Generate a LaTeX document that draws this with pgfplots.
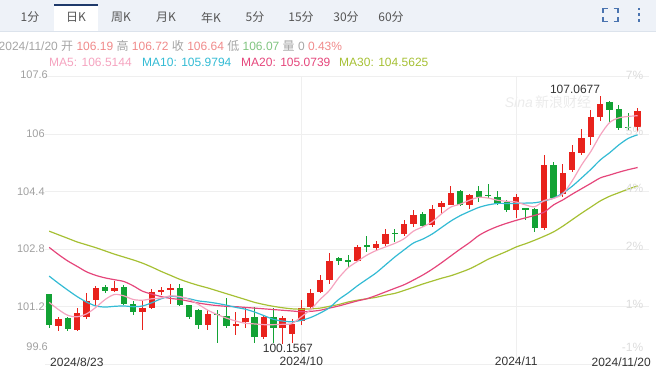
\documentclass[border=0pt]{standalone}
\usepackage{pgfplots}
\pgfplotsset{compat=1.18}
\usepackage{pgfplotstable}
\usepackage{fontspec}
\setmainfont{Liberation Sans}
\newfontfamily\cjk{Noto Sans CJK SC}
\newcommand\fs[1]{\fontsize{#1}{#1}\selectfont}
\definecolor{cred}{HTML}{E8221C}
\definecolor{cgreen}{HTML}{12A234}
\definecolor{ma5c}{HTML}{F5A3BF}
\definecolor{ma10c}{HTML}{33BBD4}
\definecolor{ma20c}{HTML}{E5467B}
\definecolor{ma30c}{HTML}{A6C034}
\definecolor{gridc}{HTML}{EFEFEF}
\definecolor{labgray}{HTML}{A0A0A0}
\definecolor{pctgray}{HTML}{DCDCDC}
\definecolor{tabbg}{HTML}{EEF2F8}
\definecolor{tabline}{HTML}{DCE3EC}
\definecolor{navy}{HTML}{1F3A6B}
\definecolor{tabtext}{HTML}{555555}
\definecolor{iconc}{HTML}{4A74B0}
\definecolor{infogray}{HTML}{A5A5A5}
\definecolor{infoup}{HTML}{F08A8A}
\definecolor{infodn}{HTML}{80C480}

\pgfplotstableread{
i o h l c
1 100.66 100.92 100.53 100.87
3 100.55 101.17 100.53 101.03
4 100.92 101.57 100.87 101.35
5 101.38 101.78 101.22 101.71
7 101.65 101.91 101.60 101.73
10 101.04 101.38 100.55 101.17
11 101.17 101.69 101.13 101.61
12 101.62 101.75 101.52 101.66
13 101.65 101.82 101.27 101.71
17 100.69 101.10 100.56 100.99
20 100.67 101.06 100.41 100.73
21 100.78 101.20 100.62 100.89
23 100.35 100.96 100.31 100.92
25 100.60 100.93 100.1567 100.89
26 100.43 100.87 100.20 100.73
27 100.80 101.38 100.70 101.17
28 101.19 101.69 101.17 101.59
29 101.61 102.08 101.59 101.94
30 101.94 102.68 101.82 102.46
33 102.46 102.91 102.43 102.86
35 102.84 103.02 102.77 102.93
36 102.93 103.35 102.89 103.21
38 103.21 103.60 103.17 103.51
39 103.50 103.88 103.42 103.76
41 103.47 104.02 103.42 103.93
42 103.96 104.13 103.79 104.08
43 104.04 104.56 104.02 104.37
45 104.02 104.33 103.93 104.30
50 103.88 104.32 103.67 104.25
53 103.39 105.43 103.33 105.14
55 104.32 105.18 104.25 104.93
56 104.99 105.69 104.95 105.49
57 105.46 106.15 105.41 105.90
58 105.92 106.66 105.71 106.48
59 106.48 107.0677 106.36 106.85
63 106.19 106.72 106.07 106.64
}\upcandles

\pgfplotstableread{
i o h l c
0 101.54 101.56 100.61 100.68
2 100.90 100.92 100.53 100.57
6 101.74 101.80 101.57 101.65
8 101.76 101.80 101.24 101.27
9 101.27 101.35 100.96 101.04
14 101.72 101.82 101.22 101.24
15 101.24 101.26 100.87 100.92
16 101.10 101.13 100.57 100.70
18 101.01 101.10 100.20 100.96
19 100.95 101.45 100.60 100.67
22 100.92 101.20 100.18 100.36
24 100.92 101.17 100.20 100.61
31 102.56 102.59 102.35 102.48
32 102.51 102.63 102.28 102.46
34 102.91 103.17 102.72 102.85
37 103.26 103.35 103.00 103.21
40 103.79 103.82 103.42 103.45
44 104.43 104.44 104.00 104.02
46 104.43 104.56 104.12 104.25
47 104.32 104.62 104.21 104.27
48 104.25 104.41 104.02 104.07
49 104.10 104.16 103.84 103.88
51 103.93 103.95 103.60 103.88
52 103.91 103.95 103.29 103.39
54 105.15 105.23 104.19 104.23
60 106.90 106.91 106.32 106.66
61 106.71 106.80 106.11 106.17
62 106.20 106.60 106.11 106.17
}\downcandles

\pgfplotstableread{
i ma5 ma10 ma20 ma30
0 101.32 102.05 102.85 103.30
1 101.12 101.85 102.65 103.20
2 100.96 101.66 102.47 103.10
3 100.92 101.48 102.32 103.00
4 101.00 101.33 102.17 102.92
5 101.18 101.22 102.07 102.84
6 101.40 101.19 102.00 102.75
7 101.54 101.21 101.95 102.66
8 101.50 101.22 101.90 102.58
9 101.40 101.20 101.78 102.50
10 101.38 101.22 101.63 102.41
11 101.42 101.31 101.55 102.30
12 101.44 101.42 101.48 102.18
13 101.50 101.49 101.43 102.07
14 101.48 101.46 101.40 101.96
15 101.40 101.42 101.35 101.87
16 101.26 101.36 101.30 101.79
17 101.10 101.33 101.26 101.72
18 100.98 101.29 101.23 101.64
19 100.88 101.24 101.21 101.56
20 100.80 101.18 101.20 101.48
21 100.74 101.13 101.18 101.40
22 100.72 101.05 101.16 101.32
23 100.70 100.95 101.14 101.26
24 100.70 100.85 101.12 101.21
25 100.71 100.80 101.10 101.17
26 100.73 100.78 101.08 101.14
27 100.92 100.82 101.06 101.13
28 101.12 100.90 101.07 101.14
29 101.40 101.02 101.10 101.16
30 101.65 101.17 101.16 101.21
31 102.00 101.40 101.22 101.26
32 102.28 101.58 101.29 101.33
33 102.46 101.78 101.36 101.38
34 102.63 101.96 101.42 101.42
35 102.76 102.14 101.51 101.46
36 102.86 102.36 101.61 101.52
37 102.96 102.58 101.71 101.57
38 103.09 102.78 101.81 101.65
39 103.30 102.97 101.94 101.74
40 103.42 103.08 102.08 101.83
41 103.56 103.22 102.24 101.91
42 103.78 103.40 102.42 101.99
43 103.97 103.58 102.61 102.06
44 104.05 103.73 102.80 102.15
45 104.16 103.85 102.98 102.25
46 104.24 103.96 103.18 102.38
47 104.22 104.03 103.32 102.52
48 104.16 104.07 103.43 102.63
49 104.13 104.07 103.52 102.74
50 104.11 104.07 103.60 102.86
51 104.03 104.08 103.67 102.95
52 103.98 104.09 103.74 103.05
53 104.15 104.14 103.83 103.16
54 104.21 104.22 104.03 103.28
55 104.34 104.36 104.17 103.44
56 104.70 104.55 104.33 103.62
57 105.14 104.78 104.48 103.80
58 105.52 105.02 104.63 103.97
59 105.97 105.28 104.78 104.14
60 106.32 105.48 104.86 104.27
61 106.45 105.70 104.94 104.37
62 106.49 105.88 105.01 104.47
63 106.51 105.98 105.07 104.56
}\matable

\begin{document}
\begin{tikzpicture}[x=1pt,y=1pt]
\path[use as bounding box] (0,0) rectangle (656,369);
% tab bar
\fill[tabbg] (0,337) rectangle (656,369);
\draw[tabline, line width=1pt] (0,337) -- (656,337);
\fill[white] (54,337.5) rectangle (98,365);
\fill[navy] (54,363) rectangle (98,365);
\foreach \xx/\tt in {30/1分,76/日K,121/周K,166/月K,211/年K,255/5分,301/15分,346/30分,391/60分}
  \node[text=tabtext, inner sep=0pt] at (\xx,351.5) {\fs{12}\cjk \tt};
% icons
\begin{scope}[iconc, line width=1.8pt]
\draw (603,356) -- (603,360.5) -- (607.5,360.5);
\draw (613.5,360.5) -- (618,360.5) -- (618,356);
\draw (603,352) -- (603,347.5) -- (607.5,347.5);
\draw (613.5,347.5) -- (618,347.5) -- (618,352);
\end{scope}
\fill[iconc] (637.8,358.8) rectangle (640.4,361.4);
\fill[iconc] (637.8,353) rectangle (640.4,355.6);
\fill[iconc] (637.8,347.2) rectangle (640.4,349.8);
% info line
\node[anchor=west, inner sep=0pt] at (-1.5,323) {\fs{12}%
\textcolor{infogray}{2024/11/20 {\cjk 开}} \textcolor{infoup}{106.19} \textcolor{infogray}{\cjk 高} \textcolor{infoup}{106.72} \textcolor{infogray}{\cjk 收} \textcolor{infoup}{106.64} \textcolor{infogray}{\cjk 低} \textcolor{infodn}{106.07} \textcolor{infogray}{{\cjk 量} 0} \textcolor{infoup}{0.43\%}};
% MA legend
\node[anchor=west, inner sep=0pt, text=ma5c] at (49,307) {\fs{12}MA5: 106.5144};
\node[anchor=west, inner sep=0pt, text=ma10c] at (142,307) {\fs{12}MA10: 105.9794};
\node[anchor=west, inner sep=0pt, text=ma20c] at (241,307) {\fs{12}MA20: 105.0739};
\node[anchor=west, inner sep=0pt, text=ma30c] at (339,307) {\fs{12}MA30: 104.5625};
% watermark
\node[text=black!8, inner sep=0pt] at (548,267) {\fs{14}\textit{Sina}\,\cjk 新浪财经};
\begin{axis}[
  at={(48,13.3)}, anchor=south west, scale only axis,
  width=604pt, height=287.7pt,
  xmin=-0.46, xmax=64.2, ymin=99.6, ymax=107.6,
  axis line style={draw=none}, tick style={draw=none},
  ytick={99.6,101.2,102.8,104.4,106,107.6},
  yticklabels={,101.2,102.8,104.4,106,},
  xtick={27,50}, xticklabels={2024/10,2024/11},
  ymajorgrids, xmajorgrids,
  grid style={draw=gridc, line width=0.8pt},
  yticklabel style={anchor=east, inner sep=0pt, xshift=0pt, font=\fs{11}, text=labgray},
  xticklabel style={anchor=center, inner sep=0pt, yshift=3.2pt, font=\fs{12}, text=black!80},
  clip=false,
]
% wicks
\addplot[draw=none, mark=none, forget plot, error bars/.cd, y dir=both, y explicit, error mark=none,
  error bar style={line width=1pt, draw=cred, solid}]
  table[x=i, y expr={(\thisrow{h}+\thisrow{l})/2}, y error expr={(\thisrow{h}-\thisrow{l})/2}] {\upcandles};
\addplot[draw=none, mark=none, forget plot, error bars/.cd, y dir=both, y explicit, error mark=none,
  error bar style={line width=1pt, draw=cgreen, solid}]
  table[x=i, y expr={(\thisrow{h}+\thisrow{l})/2}, y error expr={(\thisrow{h}-\thisrow{l})/2}] {\downcandles};
% bodies
\addplot[draw=none, mark=none, forget plot, error bars/.cd, y dir=both, y explicit, error mark=none,
  error bar style={line width=6.4pt, draw=cred, solid}]
  table[x=i, y expr={(\thisrow{o}+\thisrow{c})/2}, y error expr={max(abs(\thisrow{c}-\thisrow{o})/2,0.015)}] {\upcandles};
\addplot[draw=none, mark=none, forget plot, error bars/.cd, y dir=both, y explicit, error mark=none,
  error bar style={line width=6.4pt, draw=cgreen, solid}]
  table[x=i, y expr={(\thisrow{o}+\thisrow{c})/2}, y error expr={max(abs(\thisrow{c}-\thisrow{o})/2,0.015)}] {\downcandles};
% moving averages
\addplot[ma30c, line width=1.2pt, smooth, no markers] table[x=i, y=ma30] {\matable};
\addplot[ma20c, line width=1.2pt, smooth, no markers] table[x=i, y=ma20] {\matable};
\addplot[ma10c, line width=1.2pt, smooth, no markers] table[x=i, y=ma10] {\matable};
\addplot[ma5c, line width=1.2pt, smooth, no markers] table[x=i, y=ma5] {\matable};
% extreme labels
\node[text=black!80, inner sep=0pt] at (axis cs:56.3,107.25) {\fs{12}107.0677};
\node[text=black!80, inner sep=0pt] at (axis cs:25.56,100.04) {\fs{12}100.1567};
\end{axis}
% outer tick labels
\node[anchor=east, inner sep=0pt, text=labgray] at (48,294) {\fs{11}107.6};
\node[anchor=east, inner sep=0pt, text=labgray] at (48,22) {\fs{11}99.6};
\node[anchor=west, inner sep=0pt, text=black!80] at (50,6.5) {\fs{12}2024/8/23};
\node[anchor=east, inner sep=0pt, text=black!80] at (651,6.5) {\fs{12}2024/11/20};
\foreach \yy/\tt in {294/7\%,237.3/5\%,181/4\%,122.3/2\%,65/1\%,22/-1\%}
  \node[anchor=east, inner sep=0pt, text=pctgray] at (643.5,\yy) {\fs{12}\tt};
\end{tikzpicture}
\end{document}
